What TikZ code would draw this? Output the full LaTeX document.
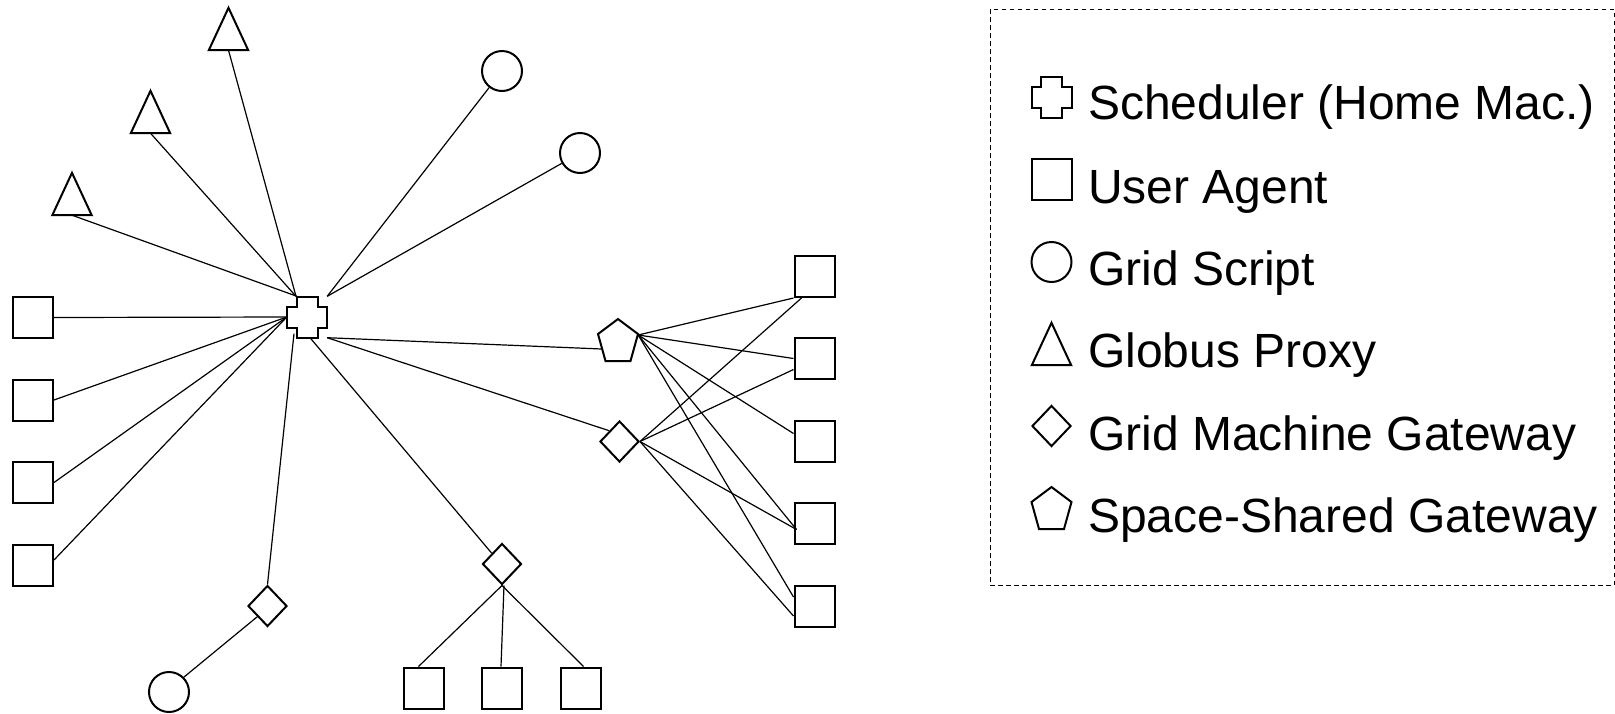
\documentclass[tikz,border=0pt]{standalone}
\usepackage{fontspec}
\setmainfont{Liberation Sans}
\usetikzlibrary{shapes.geometric}

\tikzset{
  outline/.style={draw, line width=2pt},
  link/.style={line width=1.2pt},
  agent/.style={rectangle, outline, minimum width=40pt, minimum height=41pt, inner sep=0pt},
  script/.style={circle, outline, minimum size=40pt, inner sep=0pt},
  gateway/.style={diamond, outline, minimum width=39pt, minimum height=41pt, inner sep=0pt},
  proxybox/.style={rectangle, minimum width=39pt, minimum height=42pt, inner sep=0pt},
  schedbox/.style={rectangle, minimum width=40pt, minimum height=41pt, inner sep=0pt},
  ssgbox/.style={rectangle, minimum width=40pt, minimum height=42pt, inner sep=0pt},
  legendframe/.style={draw, line width=1pt, dash pattern=on 4.5pt off 3.5pt, inner sep=0pt},
  legendtext/.style={anchor=base west, inner sep=0pt, font=\fontsize{48}{57}\selectfont},
}

% outlines drawn around invisible boxes
\newcommand\drawproxy[1]{\draw[outline] (#1.south west) -- (#1.north) -- (#1.south east) -- cycle;}
\newcommand\drawsched[1]{\draw[outline, shift={(#1.center)}]
  (-10.5,-20.5) -- (10.5,-20.5) -- (10.5,-10.5) -- (20,-10.5) -- (20,10.5) -- (10.5,10.5)
  -- (10.5,20.5) -- (-10.5,20.5) -- (-10.5,10.5) -- (-20,10.5) -- (-20,-10.5) -- (-10.5,-10.5) -- cycle;}
\newcommand\drawssg[1]{\draw[outline, shift={(#1.center)}]
  (0,-21) -- (20,-6) -- (12.5,21) -- (-12.5,21) -- (-20,-6) -- cycle;}

\begin{document}
\begin{tikzpicture}[x=1pt, y=-1pt]
\useasboundingbox (0,0) rectangle (1615,713);

% scheduler and its neighbours
\node[schedbox] (sched) at (307,317) {};
\node[proxybox] (p1) at (228.5,29) {};
\node[proxybox] (p2) at (150.5,112) {};
\node[proxybox] (p3) at (72,194) {};
\node[script] (s1) at (502,71) {};
\node[script] (s2) at (580,153) {};
\node[script] (s3) at (169,692) {};
\node[agent] (u1) at (33,317.5) {};
\node[agent] (u2) at (33,400) {};
\node[agent] (u3) at (33,482.5) {};
\node[agent] (u4) at (33,565) {};
\node[gateway] (g1) at (267.5,606) {};
\node[gateway] (g2) at (502,564) {};
\node[gateway] (g3) at (619.5,441.5) {};
\node[ssgbox] (ssg) at (618,340) {};
\node[agent] (b1) at (423.5,688) {};
\node[agent] (b2) at (502,688) {};
\node[agent] (b3) at (580.5,688) {};
\node[agent] (r1) at (814.5,276.5) {};
\node[agent] (r2) at (814.5,358.5) {};
\node[agent] (r3) at (814.5,441.5) {};
\node[agent] (r4) at (814.5,523.5) {};
\node[agent] (r5) at (814.5,606) {};

\drawsched{sched}
\drawproxy{p1}
\drawproxy{p2}
\drawproxy{p3}
\drawssg{ssg}

% links
\draw[link] (p1.south) -- ([xshift=-11pt]sched.north);
\draw[link] (p2.south) -- ([xshift=-11pt]sched.north);
\draw[link] (p3.south) -- ([xshift=-10pt]sched.north);
\draw[link] (s1) -- (sched.north east);
\draw[link] (s2) -- (sched.north east);
\draw[link] (u1.east) -- (sched.west);
\draw[link] (u2.east) -- (sched.west);
\draw[link] (u3.east) -- (sched.west);
\draw[link] ([yshift=5pt]u4.east) -- (sched.west);
\draw[link] ([xshift=-13pt,yshift=4pt]sched.south) -- (g1.north);
\draw[link] (g1.south west) -- (s3.north east);
\draw[link] ([xshift=3pt]sched.south) -- (g2.north west);
\draw[link] (sched.south east) -- ([xshift=4pt,yshift=-9pt]ssg.west);
\draw[link] (sched.south east) -- (g3.north west);
\draw[link] (g2.south) -- ([xshift=-5pt]b1.north);
\draw[link] ([xshift=2pt]g2.south) -- ([xshift=-1pt]b2.north);
\draw[link] (g2.south) -- ([xshift=3pt]b3.north);

\coordinate (ssgtip) at ([yshift=5pt]ssg.east);
\coordinate (r4in) at ([xshift=3pt,yshift=-6pt]r4.west);
\draw[link] (ssgtip) -- (r1.south west);
\draw[link] (ssgtip) -- (r2.west);
\draw[link] (ssgtip) -- ([yshift=8pt]r3.west);
\draw[link] (ssgtip) -- (r4in);
\draw[link] (ssgtip) -- ([yshift=9pt]r5.west);
\draw[link] (g3.east) -- ([xshift=8pt]r1.south west);
\draw[link] (g3.east) -- ([yshift=-11pt]r2.west);
\draw[link] (g3.east) -- (r4in);
\draw[link] (g3.east) -- ([yshift=-10pt]r5.west);

% legend
\node[legendframe, minimum width=624pt, minimum height=576pt] (legend) at (1302,297) {};
\node[schedbox] (k1) at (1051.5,97) {};
\drawsched{k1}
\node[agent] (k2) at (1051.5,179) {};
\node[script] (k3) at (1051.5,262) {};
\node[proxybox] (k4) at (1051.5,344) {};
\drawproxy{k4}
\node[gateway] (k5) at (1051.5,426) {};
\node[ssgbox] (k6) at (1051.5,508) {};
\drawssg{k6}
\node[legendtext] (t1) at (1088,119) {Scheduler (Home Mac.)};
\node[legendtext] (t2) at (1088,203) {User Agent};
\node[legendtext] (t3) at (1088,285) {Grid Script};
\node[legendtext] (t4) at (1088,367) {Globus Proxy};
\node[legendtext] (t5) at (1088,450) {Grid Machine Gateway};
\node[legendtext] (t6) at (1088,532) {Space-Shared Gateway};
\end{tikzpicture}
\end{document}
